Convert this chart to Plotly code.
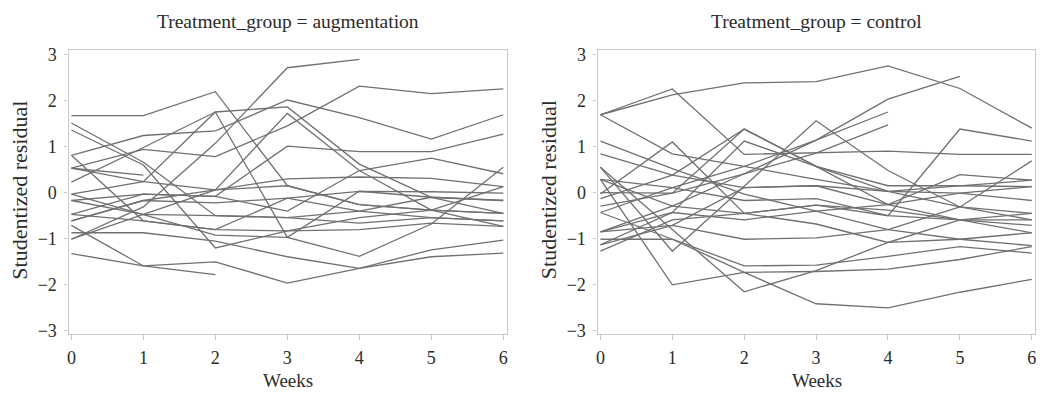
import plotly.graph_objects as go

weeks = [0, 1, 2, 3, 4, 5, 6]
panel_titles = ["Treatment_group = augmentation", "Treatment_group = control"]
x_title = "Weeks"
y_title = "Studentized residual"
x_tick_labels = ["0", "1", "2", "3", "4", "5", "6"]
y_tick_values = [-3, -2, -1, 0, 1, 2, 3]

# Studentized residuals per subject, weeks 0..6 (None = no visit)
augmentation = [
    [1.67, 1.67, 2.19, 0.15, -0.26, -0.38, -0.45],
    [1.51, 0.66, -0.50, -0.54, -0.66, -0.54, -0.61],
    [1.36, 0.60, -1.20, -0.83, -0.80, -0.66, -0.73],
    [0.81, 1.24, 1.34, 2.01, 1.63, 1.16, 1.69],
    [0.53, 0.94, 0.78, 1.45, 2.31, 2.15, 2.25],
    [0.23, 0.98, 1.75, -0.97, -1.38, -0.68, 0.55],
    [0.53, 0.38, None, None, None, None, None],
    [-1.01, -0.31, 1.07, 2.71, 2.89, None, None],
    [0.81, -0.61, -0.80, -0.12, 0.03, 0.02, -0.01],
    [0.53, 0.24, 0.06, 0.30, 0.34, 0.31, 0.13],
    [-0.03, -0.47, -0.92, -0.97, 0.03, -0.10, -0.17],
    [-0.17, -0.03, -0.08, -0.40, 0.48, 0.75, 0.41],
    [-0.47, -0.03, -0.08, 1.01, 0.89, 0.89, 1.27],
    [-0.61, -0.17, -0.22, -0.12, -0.40, -0.54, -0.61],
    [-0.71, -1.59, -1.50, -1.96, -1.64, -1.39, -1.31],
    [-1.32, -1.59, -1.78, None, None, None, None],
    [-0.87, -0.87, -1.05, -1.39, -1.64, -1.24, -1.03],
    [-1.01, -0.47, -0.50, -0.54, -0.40, -0.10, -0.17],
    [-0.61, -0.17, 0.06, 0.15, -0.26, -0.38, -0.45],
    [-0.47, -0.61, -0.80, -0.83, -0.54, -0.38, 0.13],
    [-0.03, 0.24, 1.75, 1.86, 0.62, -0.10, -0.45],
    [-0.17, -0.47, 0.06, 1.72, 0.48, -0.38, -0.73],
]

control = [
    [1.69, 2.12, 2.38, 2.41, 2.75, 2.26, 1.40],
    [1.69, 0.84, 0.57, 0.29, 0.03, -0.31, -0.45],
    [1.69, 2.25, 0.83, 0.86, 0.90, 0.83, 0.83],
    [-0.85, -0.29, 0.41, 1.14, 2.03, 2.52, None],
    [-0.43, 0.11, 0.57, 1.14, 1.75, None, None],
    [-0.29, -0.01, 0.41, 0.86, 1.47, None, None],
    [0.55, -1.27, 0.14, 1.56, 0.48, -0.31, -0.59],
    [1.12, 0.52, -0.03, -0.40, -0.80, -1.01, -1.15],
    [0.84, 0.38, 0.11, 0.15, -0.26, -0.59, -0.87],
    [0.29, 0.11, -0.17, -0.13, -0.50, -0.59, -0.71],
    [0.00, -0.01, 1.38, 0.57, 0.03, -0.01, -0.17],
    [-0.13, 0.38, 1.38, 0.57, 0.15, 0.15, 0.13],
    [-0.85, -0.43, 1.12, 0.57, -0.26, 0.39, 0.27],
    [0.29, -0.29, -0.45, -0.27, -0.50, 1.38, 1.12],
    [-1.01, -1.01, -1.59, -1.57, -1.38, -1.17, -1.31],
    [-1.13, -0.71, -1.01, -0.98, -0.80, -0.31, 0.69],
    [0.29, -2.00, -1.73, -1.71, -1.66, -1.45, -1.17],
    [0.55, -0.80, -2.15, -1.69, -1.08, -1.01, -0.87],
    [-0.43, -1.01, -1.73, -2.41, -2.50, -2.16, -1.88],
    [-1.27, -0.59, -0.45, -0.68, -1.08, -0.59, -0.45],
    [-0.85, -0.71, 0.11, 0.15, 0.03, 0.15, 0.27],
    [-1.13, -0.43, -0.59, -0.40, -0.26, -0.01, 0.13],
    [-0.03, 1.10, -0.45, -0.27, -0.38, -0.59, -0.59],
]

FONT = "'Liberation Serif', 'DejaVu Serif', serif"
TEXT_COLOR = "#2b2b2b"
LINE_COLOR = "#707070"
FRAME_COLOR = "#c8c8c8"
W, H = 1040, 396

fig = go.Figure()

for series, xa, ya in [(augmentation, "x", "y"), (control, "x2", "y2")]:
    for values in series:
        fig.add_trace(go.Scatter(
            x=weeks, y=values, xaxis=xa, yaxis=ya, mode="lines",
            line=dict(color=LINE_COLOR, width=1.3),
            connectgaps=False, showlegend=False, hoverinfo="skip",
        ))

x_common = dict(
    range=[-0.04, 6.045], tickvals=weeks, ticktext=x_tick_labels,
    showline=True, mirror=True, linecolor=FRAME_COLOR, linewidth=1.2,
    ticks="outside", ticklen=5, tickcolor=FRAME_COLOR, tickwidth=1.2,
    showgrid=False, zeroline=False, ticklabelstandoff=2,
    tickfont=dict(family=FONT, size=18, color=TEXT_COLOR),
)
y_common = dict(
    range=[-3.063, 3.084], tickvals=y_tick_values,
    showline=True, mirror=True, linecolor=FRAME_COLOR, linewidth=1.2,
    ticks="outside", ticklen=3, tickcolor=FRAME_COLOR, tickwidth=1.2,
    showgrid=False, zeroline=False, ticklabelstandoff=4,
    tickfont=dict(family=FONT, size=18, color=TEXT_COLOR),
)

panel_left = [66.7, 597.3]
panel_right = [506.0, 1036.0]
panel_center = [286.5, 817.0]
y_title_x = [18.0, 548.0]

annotations = []
for i in range(2):
    # panel heading
    annotations.append(dict(
        text=panel_titles[i], x=panel_center[i] / W, y=1 - 16 / H,
        xref="paper", yref="paper", xanchor="center", yanchor="middle",
        showarrow=False, font=dict(family=FONT, size=19.5, color=TEXT_COLOR)))
    # x-axis title
    annotations.append(dict(
        text=x_title, x=panel_center[i] / W, y=1 - 387 / H,
        xref="paper", yref="paper", xanchor="center", yanchor="middle",
        showarrow=False, font=dict(family=FONT, size=19, color=TEXT_COLOR)))
    # y-axis title
    annotations.append(dict(
        text=y_title, x=y_title_x[i] / W, y=1 - 190 / H, textangle=-90,
        xref="paper", yref="paper", xanchor="center", yanchor="middle",
        showarrow=False, font=dict(family=FONT, size=22, color=TEXT_COLOR)))

y_dom = [1 - 339 / H, 1 - 46 / H]
fig.update_layout(
    width=W, height=H,
    margin=dict(l=0, r=0, t=0, b=0),
    paper_bgcolor="white", plot_bgcolor="white",
    xaxis=dict(domain=[panel_left[0] / W, panel_right[0] / W], anchor="y", **x_common),
    yaxis=dict(domain=y_dom, anchor="x", **y_common),
    xaxis2=dict(domain=[panel_left[1] / W, panel_right[1] / W], anchor="y2", **x_common),
    yaxis2=dict(domain=y_dom, anchor="x2", **y_common),
    annotations=annotations,
)

fig.write_html("out.html")
